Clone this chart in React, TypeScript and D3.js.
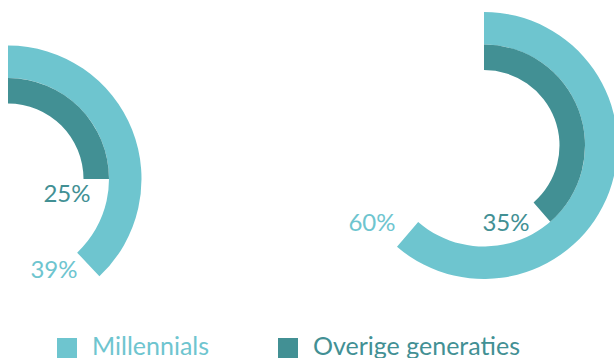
import React from "react";
import * as d3 from "d3";

const charts = ["left", "right"];
// labelled values
const millennials = [39, 60];
const overige = [25, 35];
// arc extents as drawn in the picture (percent of a full turn)
const millennialsArc = [38, 61.3];
const overigeArc = [25, 38.6];
const seriesNames = ["Millennials", "Overige generaties"];
const colors = ["#6EC5CF", "#429094"];

const W = 614;
const H = 358;
const centers = [
  { x: 8, y: 179 },
  { x: 484, y: 145.5 },
];
const R_OUT = 133.5;
const R_MID = 101;
const R_IN = 75.5;

const lightLabelPos = [
  { x: 54, y: 278 },
  { x: 372, y: 231 },
];
const darkLabelPos = [
  { x: 67, y: 202 },
  { x: 506, y: 231 },
];

const FONT = "Lato, 'Open Sans', sans-serif";

export default function App() {
  const angle = d3.scaleLinear().domain([0, 100]).range([0, 2 * Math.PI]);
  const outerArc = d3.arc<any>().innerRadius(R_MID).outerRadius(R_OUT);
  const innerArc = d3.arc<any>().innerRadius(R_IN).outerRadius(R_MID);

  return (
    <svg
      width={W}
      height={H}
      style={{ position: "absolute", left: 0, top: 0, background: "#fff" }}
    >
      {charts.map((c, i) => (
        <g key={c}>
          <g transform={`translate(${centers[i].x},${centers[i].y})`}>
            <path
              d={outerArc({ startAngle: 0, endAngle: angle(millennialsArc[i]) }) || ""}
              fill={colors[0]}
            />
            <path
              d={innerArc({ startAngle: 0, endAngle: angle(overigeArc[i]) }) || ""}
              fill={colors[1]}
            />
          </g>
          <text
            x={lightLabelPos[i].x}
            y={lightLabelPos[i].y}
            textAnchor="middle"
            fill={colors[0]}
            fontFamily={FONT}
            fontSize={24}
          >
            {millennials[i]}%
          </text>
          <text
            x={darkLabelPos[i].x}
            y={darkLabelPos[i].y}
            textAnchor="middle"
            fill={colors[1]}
            fontFamily={FONT}
            fontSize={24}
          >
            {overige[i]}%
          </text>
        </g>
      ))}
      {seriesNames.map((s, i) => (
        <g key={s} transform={`translate(${[57, 278][i]},0)`}>
          <rect x={0} y={338} width={20} height={20} fill={colors[i]} />
          <text
            x={35}
            y={355}
            fill={colors[i]}
            fontFamily={FONT}
            fontSize={25}
          >
            {s}
          </text>
        </g>
      ))}
    </svg>
  );
}
